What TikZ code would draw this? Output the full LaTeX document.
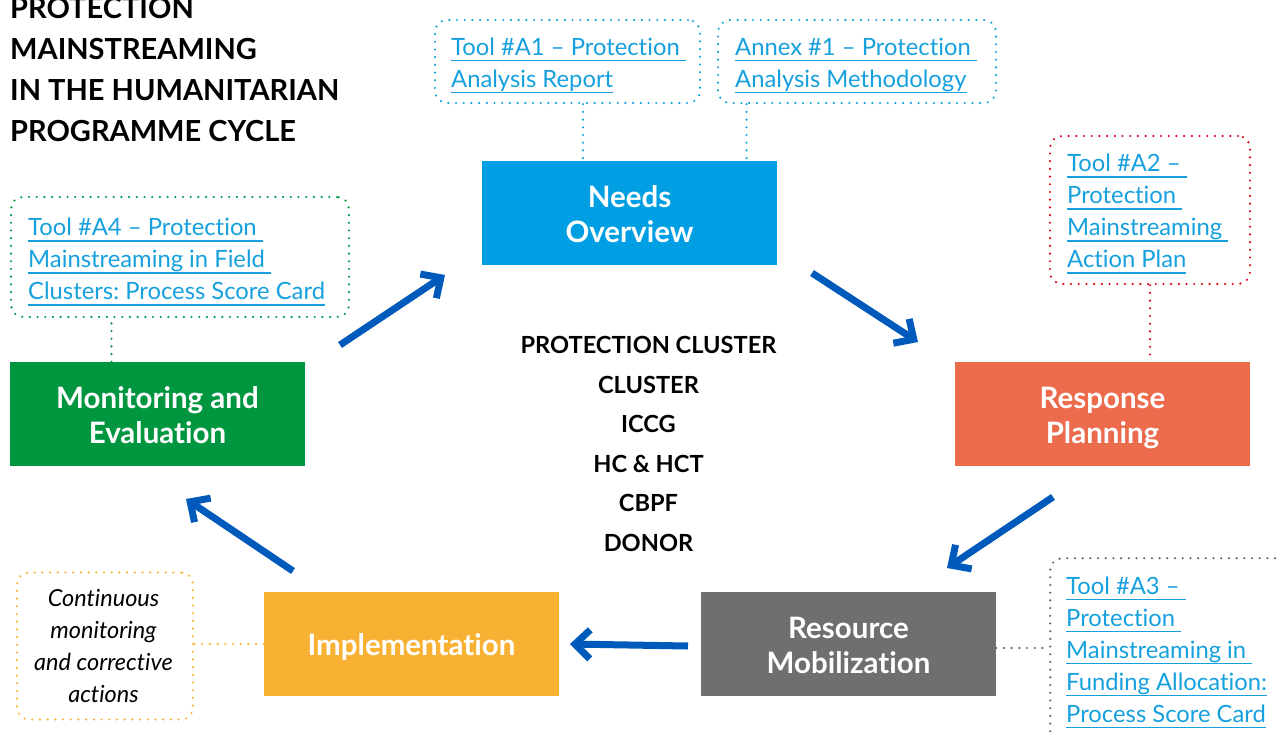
\documentclass[tikz,border=0pt]{standalone}
\usepackage{fontspec}
\setmainfont{Lato}[Ligatures=NoCommon]
\usetikzlibrary{arrows.meta}
\frenchspacing
\definecolor{cNeeds}{RGB}{0,159,227}
\definecolor{cResp}{RGB}{236,107,77}
\definecolor{cRes}{RGB}{111,111,111}
\definecolor{cImpl}{RGB}{248,177,51}
\definecolor{cME}{RGB}{0,150,64}
\definecolor{cArrow}{RGB}{0,90,187}
\definecolor{cLink}{RGB}{22,160,222}
\definecolor{cRed}{RGB}{226,0,26}
\definecolor{cGray}{RGB}{100,100,100}
\newcommand\lnk[1]{\setbox0=\hbox{#1}\rlap{\rule[-6pt]{\wd0}{1.6pt}}\box0}
\tikzset{
  phase/.style={fill=#1, draw=none, minimum width=295pt, minimum height=104pt, inner sep=0pt},
  phtext/.style={text=white, font=\bfseries\fontsize{29.5}{35}\selectfont, align=center, inner sep=0pt},
  callout/.style={draw=#1, rounded corners=12pt, line width=2.4pt, line cap=round,
    dash pattern=on 0pt off 7.7pt, inner sep=0pt},
  dotline/.style={draw=#1, line width=2.4pt, line cap=round, dash pattern=on 0pt off 7.7pt},
  linktext/.style={text=cLink, font=\fontsize{23.8}{32}\selectfont, align=left, inner sep=0pt, anchor=north west},
  cyc/.style={draw=cArrow, line width=7pt, line join=miter,
    -{Straight Barb[length=15pt,width=29pt,line join=miter]}},
}
\begin{document}
\begin{tikzpicture}[x=1pt,y=-1pt]
\clip (0,0) rectangle (1277,734);

% title
\node[anchor=north west, inner sep=0pt, align=left, font=\bfseries\fontsize{29}{41}\selectfont] (title) at (10,-10.2)
  {\strut PROTECTION\\\strut MAINSTREAMING\\\strut IN THE HUMANITARIAN\\\strut PROGRAMME CYCLE};

% phases
\node[phase=cNeeds] (needs) at (629.5,213) {};
\node[phase=cResp] (resp) at (1102.5,414) {};
\node[phase=cRes] (res) at (848.5,644) {};
\node[phase=cImpl] (impl) at (411.5,644) {};
\node[phase=cME] (me) at (157.5,414) {};

\node[phtext] (needsT) at ([yshift=-4.5pt]needs.center) {\strut Needs\\\strut Overview};
\node[phtext] (respT) at ([yshift=-4.5pt]resp.center) {\strut Response\\\strut Planning};
\node[phtext] (resT) at ([yshift=-4.5pt]res.center) {\strut Resource\\\strut Mobilization};
\node[phtext] (implT) at ([yshift=-4.5pt]impl.center) {\strut Implementation};
\node[phtext] (meT) at ([yshift=-4.5pt]me.center) {\strut Monitoring and\\\strut Evaluation};

% centre
\node[anchor=north, inner sep=0pt, align=center, font=\bfseries\fontsize{23.6}{39.6}\selectfont] (actors) at (648.5,325.6)
  {\strut PROTECTION CLUSTER\\\strut CLUSTER\\\strut ICCG\\\strut HC \& HCT\\\strut CBPF\\\strut DONOR};

% cycle arrows
\coordinate (a1s) at (812,273); \coordinate (a1e) at (918,342);
\coordinate (a2s) at (1053,497); \coordinate (a2e) at (947,568);
\coordinate (a3s) at (688,646); \coordinate (a3e) at (570,644);
\coordinate (a4s) at (293,571); \coordinate (a4e) at (186,499);
\coordinate (a5s) at (340,345); \coordinate (a5e) at (445,275);
\draw[cyc] (a1s) -- (a1e);
\draw[cyc] (a2s) -- (a2e);
\draw[cyc] (a3s) -- (a3e);
\draw[cyc] (a4s) -- (a4e);
\draw[cyc] (a5s) -- (a5e);

% callouts
\node[callout=cLink, minimum width=265pt, minimum height=83pt] (A1box) at (567.5,61.5) {};
\node[callout=cLink, minimum width=278pt, minimum height=83pt] (Anbox) at (857,61.5) {};
\node[callout=cRed, minimum width=200pt, minimum height=148pt] (A2box) at (1150,210) {};
\node[callout=cGray, minimum width=260pt, minimum height=210pt, anchor=north west] (A3box) at (1049,557) {};
\node[callout=cME, minimum width=338pt, minimum height=120pt] (A4box) at (180,257) {};
\node[callout=cImpl, minimum width=176pt, minimum height=147pt] (Cbox) at (105,646) {};

\node[linktext] (A1t) at (451,32.6) {\strut\lnk{Tool \#A1 – Protection\ }\\\strut\lnk{Analysis Report}};
\node[linktext] (Ant) at (735,32.6) {\strut\lnk{Annex \#1 – Protection\ }\\\strut\lnk{Analysis Methodology}};
\node[linktext] (A2t) at (1067,149.3) {\strut\lnk{Tool \#A2 –\ }\\\strut\lnk{Protection\ }\\\strut\lnk{Mainstreaming\ }\\\strut\lnk{Action Plan}};
\node[linktext] (A3t) at (1066,571.6) {\strut\lnk{Tool \#A3 –\ }\\\strut\lnk{Protection\ }\\\strut\lnk{Mainstreaming in\ }\\\strut\lnk{Funding Allocation:}\\\strut\lnk{Process Score Card}};
\node[linktext] (A4t) at (28,213.3) {\strut\lnk{Tool \#A4 – Protection\ }\\\strut\lnk{Mainstreaming in Field\ }\\\strut\lnk{Clusters: Process Score Card}};
\node[anchor=north, inner sep=0pt, align=center, font=\itshape\fontsize{23.5}{32}\selectfont] (Ct) at (103.5,583.6)
  {\strut Continuous\\\strut monitoring\\\strut and corrective\\\strut actions};

% dotted connectors
\draw[dotline=cLink] ([xshift=15.5pt]A1box.south) -- ([xshift=15.5pt]A1box.south |- needs.north);
\draw[dotline=cLink] ([xshift=-110.5pt]Anbox.south) -- ([xshift=-110.5pt]Anbox.south |- needs.north);
\draw[dotline=cRed] (A2box.south) -- (A2box.south |- resp.north);
\draw[dotline=cGray] ([yshift=-4pt]res.east) -- ([yshift=-4pt]res.east -| A3box.west);
\draw[dotline=cME] ([xshift=-46pt]me.north) -- ([xshift=-46pt]me.north |- A4box.south);
\draw[dotline=cImpl] (impl.west) -- (impl.west -| Cbox.east);
\end{tikzpicture}
\end{document}
